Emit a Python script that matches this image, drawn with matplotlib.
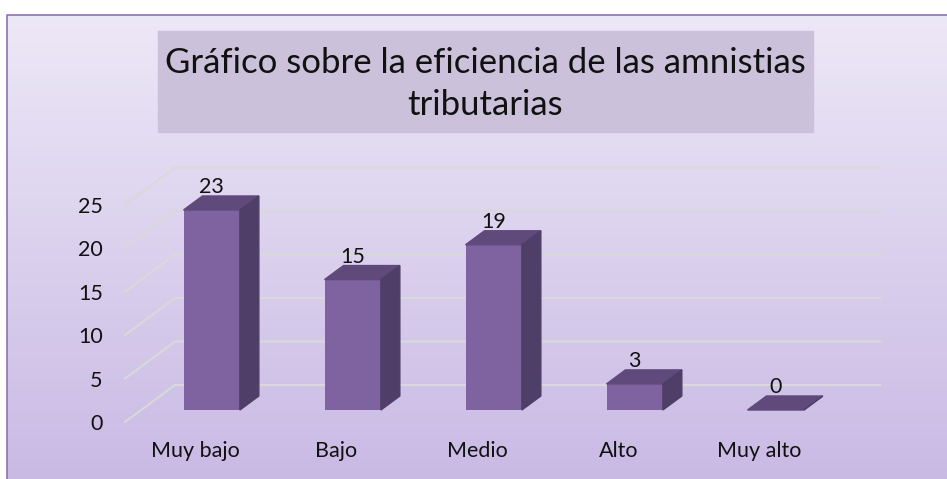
import matplotlib.pyplot as plt
import numpy as np
from matplotlib.patches import Rectangle, Polygon

# --- data ---
categories = ["Muy bajo", "Bajo", "Medio", "Alto", "Muy alto"]
values = [23, 15, 19, 3, 0]
yticks = [0, 5, 10, 15, 20, 25]
title = "Gráfico sobre la eficiencia de las amnistias\ntributarias"

# --- style ---
FRONT = "#7F63A1"
TOP = "#604A7C"
SIDE = "#4F3E68"
GRID = "#D9D9D9"
plt.rcParams['font.family'] = ['Lato', 'DejaVu Sans']

W, H = 947, 479
fig = plt.figure(figsize=(W / 100, H / 100), dpi=100)

# background: white page, purple gradient chart area with a thin border
bg = fig.add_axes([0, 0, 1, 1])
bg.set_xlim(0, W)
bg.set_ylim(H, 0)
bg.axis("off")
grad = np.linspace(0, 1, 256).reshape(-1, 1)
c_top = np.array([237, 232, 247]) / 255
c_bot = np.array([201, 186, 228]) / 255
img = c_top + grad[..., None] * (c_bot - c_top)
bg.imshow(img, extent=(7, W + 5, H, 15), aspect="auto", zorder=0)
bg.plot([7, 7, W], [H, 15, 15], color="#8A74AE", lw=1.2, zorder=1)

# title box
bg.add_patch(Rectangle((158, 31), 655, 101, color="#CBC1DA", zorder=2))
bg.text(485, 84, title, ha="center", va="center", fontsize=25,
        linespacing=1.4, color="#111111", zorder=3)

# --- plot area (front plane of the 3d box) ---
left, right = 125, 830
y0_px, unit_px = 422, 8.696
ax = fig.add_axes([left / W, (H - y0_px) / H, (right - left) / W,
                   25 * unit_px / H])
ax.set_xlim(-0.5, len(categories) - 0.5)
ax.set_ylim(0, 25)
ax.patch.set_visible(False)
for s in ax.spines.values():
    s.set_visible(False)

# depth of the box, in data units
DX = 50 / 141
DY = 37 / unit_px
d0, d1 = 0.324, 0.703
bw = 0.4

# back wall gridlines with the diagonal on the left side wall
for v in yticks:
    ax.plot([-0.5, -0.5 + DX, len(categories) - 0.5 + DX],
            [v, v + DY, v + DY], color=GRID, lw=1.5, clip_on=False, zorder=1)

x = np.arange(len(categories))
xf = x + d0 * DX
ax.bar(xf, values, width=bw, bottom=d0 * DY, color=FRONT, zorder=3,
       clip_on=False)
dd = d1 - d0
for xi, v in zip(xf, values):
    xl, xr = xi - bw / 2, xi + bw / 2
    b = d0 * DY
    t = b + v
    ax.add_patch(Polygon([(xl, t), (xr, t), (xr + dd * DX, t + dd * DY),
                          (xl + dd * DX, t + dd * DY)], closed=True,
                         color=TOP, zorder=4, clip_on=False))
    ax.add_patch(Polygon([(xr, b), (xr + dd * DX, b + dd * DY),
                          (xr + dd * DX, t + dd * DY), (xr, t)], closed=True,
                         color=SIDE, zorder=4, clip_on=False))
    ax.annotate(str(v), (xi, d1 * DY + v), xytext=(0, 2),
                textcoords="offset points", ha="center", va="baseline",
                fontsize=15.5, color="#111111", zorder=5,
                annotation_clip=False)

ax.set_xticks(x)
ax.set_xticklabels(categories, fontsize=15.5, color="#111111")
ax.set_yticks(yticks)
ax.set_yticklabels([str(t) for t in yticks], fontsize=15.5, color="#111111")
ax.tick_params(axis="both", length=0)
ax.tick_params(axis="y", pad=16)
ax.tick_params(axis="x", pad=14)

fig.savefig("out.png", dpi=100)
